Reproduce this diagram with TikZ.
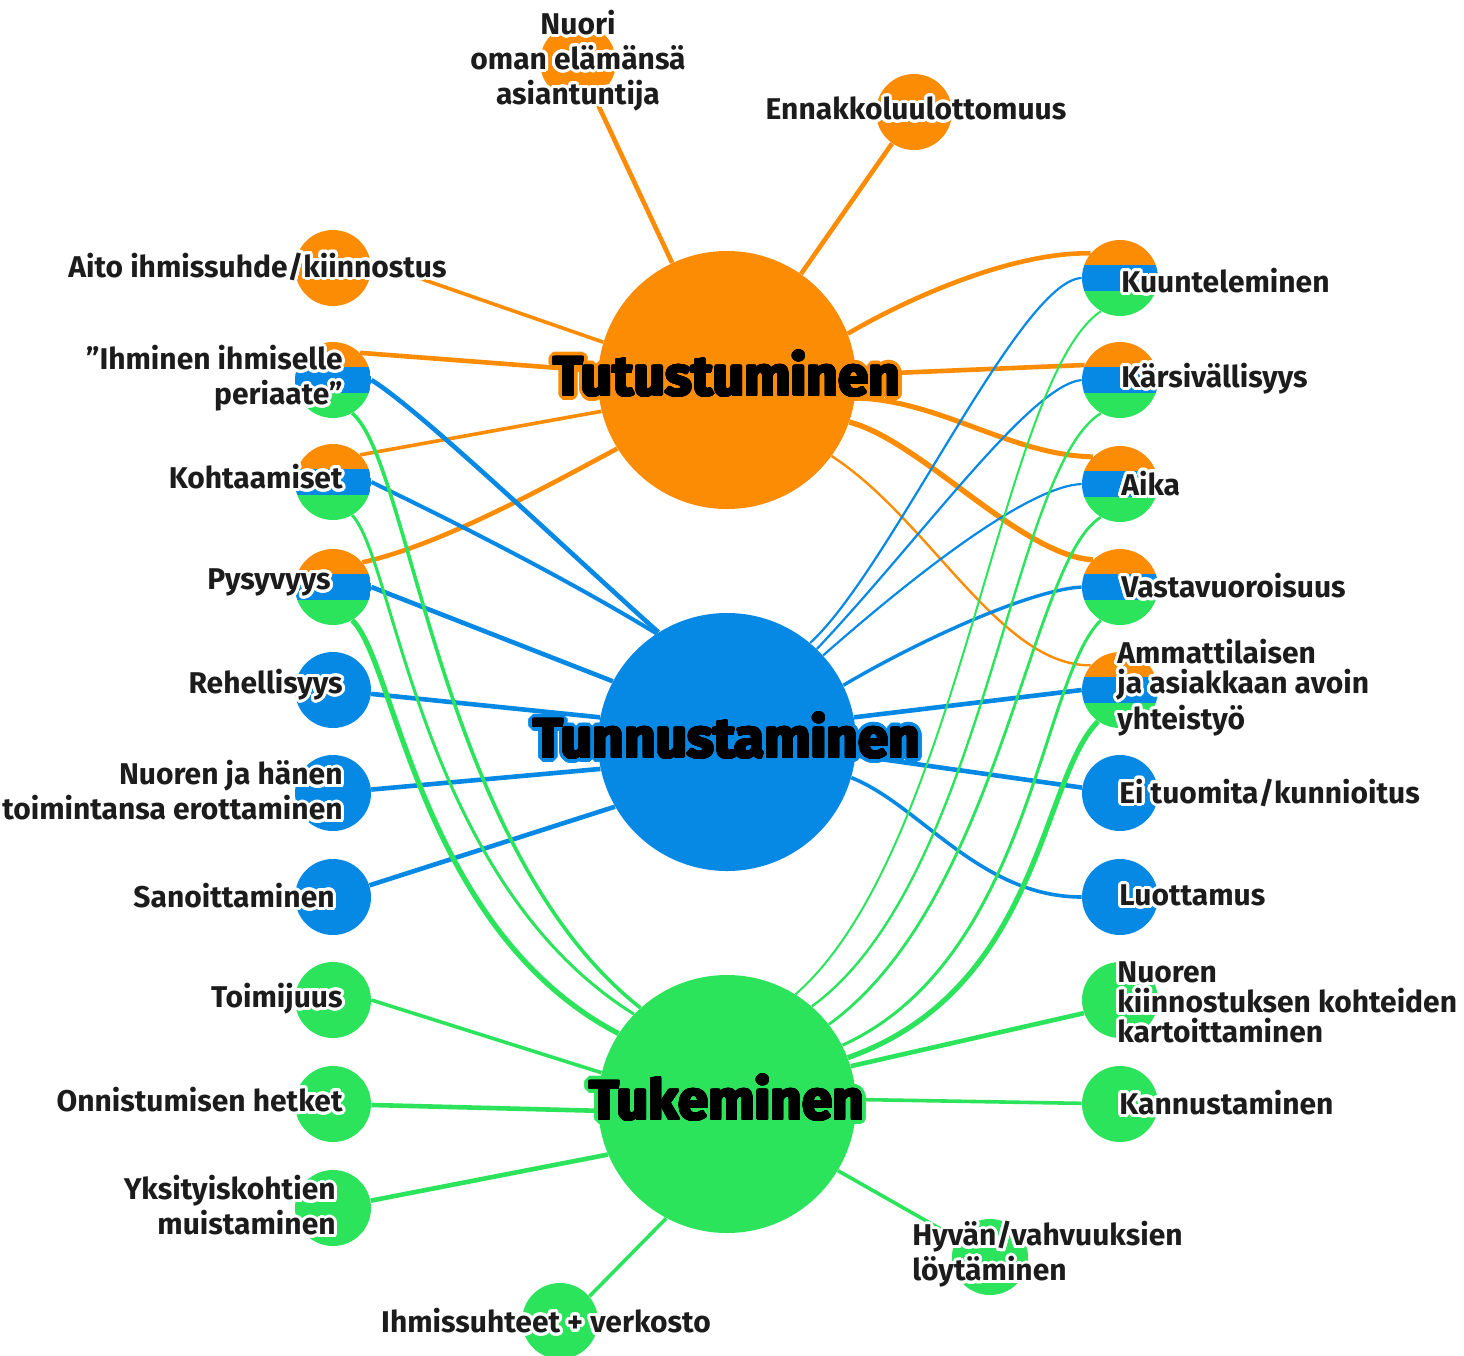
\documentclass[tikz,border=0pt]{standalone}
\usepackage{fontspec}
\setmainfont{Fira Sans}
\usepackage[copies]{contour}
\usetikzlibrary{calc,backgrounds}
\definecolor{orng}{RGB}{252,140,4}
\definecolor{blu}{RGB}{6,137,229}
\definecolor{grn}{RGB}{43,228,92}
\definecolor{ink}{RGB}{28,28,28}
\contourlength{1.5pt}
\contournumber{24}
\newcommand{\hw}[1]{\contour{white}{#1}}
% paksu otsikko: värireunus ja musta lihavointi
\newcommand{\paksu}[2]{\leavevmode\rlap{\color{#1}\contourlength{2.4pt}\contour{#1}{#2}}\contourlength{0.6pt}\contour{black}{#2}}

\begin{document}
\begin{tikzpicture}[x=0.5pt, y=-0.5pt,
  main/.style={circle, inner sep=0pt, minimum size=129pt, fill=#1},
  pallo/.style={circle, inner sep=0pt, minimum size=38pt, fill=#1},
  kolmi/.style={circle, inner sep=0pt, minimum size=38pt, path picture={
    \fill[orng] (path picture bounding box.north west) rectangle ([yshift=6.33pt]path picture bounding box.east);
    \fill[blu] ([yshift=6.33pt]path picture bounding box.west) rectangle ([yshift=-6.33pt]path picture bounding box.east);
    \fill[grn] ([yshift=-6.33pt]path picture bounding box.west) rectangle (path picture bounding box.south east);}},
  nimi/.style={font=\fontsize{15}{17.5}\selectfont\bfseries, text=ink, inner sep=0pt},
  iso/.style={font=\fontsize{27.5}{30}\selectfont\bfseries, text=black, inner sep=0pt}]
\useasboundingbox (0,0) rectangle (1464,1356);

% Keskusympyrät
\node[main=orng] (tut) at (727,380) {};
\node[main=blu] (tun) at (727,742) {};
\node[main=grn] (tuk) at (727,1104) {};

% Ylä- ja alapallot
\node[pallo=orng] (nuori) at (578,62) {};
\node[pallo=orng] (enn) at (914,112) {};
\node[pallo=grn] (ihs) at (560,1321) {};
\node[pallo=grn] (hyv) at (990,1257) {};

% Vasen sarake
\node[pallo=orng] (aito) at (333,268) {};
\node[kolmi] (ihm) at (333,380) {};
\node[kolmi] (koh) at (333,482) {};
\node[kolmi] (pys) at (333,587) {};
\node[pallo=blu] (reh) at (333,690) {};
\node[pallo=blu] (nhe) at (333,793) {};
\node[pallo=blu] (san) at (333,897) {};
\node[pallo=grn] (toi) at (333,1000) {};
\node[pallo=grn] (onn) at (333,1104) {};
\node[pallo=grn] (yks) at (333,1208) {};

% Oikea sarake
\node[kolmi] (kuu) at (1120,278) {};
\node[kolmi] (kar) at (1120,380) {};
\node[kolmi] (aika) at (1120,484) {};
\node[kolmi] (vas) at (1120,587) {};
\node[kolmi] (amm) at (1120,690) {};
\node[pallo=blu] (ei) at (1120,793) {};
\node[pallo=blu] (luo) at (1120,897) {};
\node[pallo=grn] (nkk) at (1120,1000) {};
\node[pallo=grn] (kan) at (1120,1104) {};

\begin{scope}[on background layer]
\fill[white] (0,0) rectangle (1464,1356);
% Tutustuminen
\draw[orng, line width=2.3pt] (tut) -- (nuori);
\draw[orng, line width=2.3pt] (tut) -- (enn);
\draw[orng, line width=1.8pt] (tut.163) -- (aito.10);
\draw[orng, line width=2.3pt] (tut.176) -- (ihm.45);
\draw[orng, line width=1.8pt] (tut.194) -- (koh.45);
\draw[orng, line width=2.3pt] (tut.212) .. controls (540,490) and (440,545) .. (pys.40);
\draw[orng, line width=2.3pt] (tut.21) .. controls (905,300) and (1010,252) .. (kuu.140);
\draw[orng, line width=2.3pt] (tut) -- (kar.157);
\draw[orng, line width=2.5pt] (tut.-8) .. controls (940,400) and (1010,455) .. (aika.135);
\draw[orng, line width=2.7pt] (tut.-19) .. controls (920,440) and (1020,555) .. (vas.135);
\draw[orng, line width=1.2pt] (tut.-36) .. controls (930,520) and (1000,666) .. (amm.140);
% Tunnustaminen
\draw[blu, line width=2.3pt] (ihm.east) .. controls (420,410) and (560,544) .. (tun.122);
\draw[blu, line width=2pt] (koh.east) .. controls (450,520) and (560,575) .. (tun.123);
\draw[blu, line width=2.3pt] (pys.east) -- (tun.152);
\draw[blu, line width=2.3pt] (reh) -- (tun.169);
\draw[blu, line width=2.3pt] (nhe) -- (tun.192);
\draw[blu, line width=2.3pt] (san) -- (tun.210);
\draw[blu, line width=1.1pt] (kuu.west) .. controls (1020,280) and (890,570) .. (tun.50);
\draw[blu, line width=1.1pt] (kar.west) .. controls (1030,385) and (920,540) .. (tun.46);
\draw[blu, line width=1.1pt] (aika.west) .. controls (1030,486) and (920,570) .. (tun.42);
\draw[blu, line width=1.7pt] (vas.west) .. controls (1030,590) and (920,640) .. (tun.26);
\draw[blu, line width=2.3pt] (tun.11) -- (amm.west);
\draw[blu, line width=2.3pt] (tun.-6) -- (ei);
\draw[blu, line width=1.8pt] (tun.-16) .. controls (920,805) and (980,897) .. (luo.west);
% Tukeminen
\draw[grn, line width=1.8pt] (toi.east) -- (tuk.166);
\draw[grn, line width=2.3pt] (onn) -- (tuk.183);
\draw[grn, line width=2.3pt] (yks) -- (tuk.203);
\draw[grn, line width=1.8pt] (ihs.40) -- (tuk.242);
\draw[grn, line width=1.8pt] (tuk.-31) -- (hyv);
\draw[grn, line width=1.8pt] (tuk.2) -- (kan);
\draw[grn, line width=2.3pt] (tuk.17) -- (nkk.200);
\draw[grn, line width=1.8pt] (ihm.-60) .. controls (410,460) and (440,850) .. (tuk.132);
\draw[grn, line width=1.5pt] (koh.-60) .. controls (395,560) and (420,880) .. (tuk.136);
\draw[grn, line width=2.6pt] (pys.-60) .. controls (395,660) and (420,930) .. (tuk.147);
\draw[grn, line width=1pt] (kuu.240) .. controls (1000,380) and (960,850) .. (tuk.58);
\draw[grn, line width=1.2pt] (kar.240) .. controls (1010,470) and (985,880) .. (tuk.49);
\draw[grn, line width=1.4pt] (aika.240) .. controls (1030,560) and (1000,900) .. (tuk.38);
\draw[grn, line width=1.5pt] (vas.240) .. controls (1040,680) and (1030,960) .. (tuk.27);
\draw[grn, line width=2.6pt] (amm.235) .. controls (1040,780) and (1040,990) .. (tuk.21);
\end{scope}

% Tekstit
\node[iso] (tut-t) at (727,376) {\paksu{orng}{Tutustuminen}};
\node[iso] (tun-t) at (727,738) {\paksu{blu}{Tunnustaminen}};
\node[iso] (tuk-t) at (727,1100) {\paksu{grn}{Tukeminen}};

\node[nimi, align=center] (nuori-t) at (578,62) {\hw{Nuori}\\\hw{oman elämänsä}\\\hw{asiantuntija}};
\node[nimi] (enn-t) at (916,110) {\hw{Ennakkoluulottomuus}};
\node[nimi] (ihs-t) at (546,1322) {\hw{Ihmissuhteet + verkosto}};
\node[nimi, align=left, anchor=west] (hyv-t) at (912,1256) {\hw{Hyvän/vahvuuksien}\\\hw{löytäminen}};

\node[nimi, anchor=east] (aito-t) at (447,268) {\hw{Aito ihmissuhde/kiinnostus}};
\node[nimi, anchor=east, align=right] (ihm-t) at (343,380) {\hw{”Ihminen ihmiselle}\\\hw{periaate”}};
\node[nimi, anchor=east] (koh-t) at (343,478) {\hw{Kohtaamiset}};
\node[nimi, anchor=east] (pys-t) at (331,584) {\hw{Pysyvyys}};
\node[nimi, anchor=east] (reh-t) at (343,686) {\hw{Rehellisyys}};
\node[nimi, anchor=east, align=right] (nhe-t) at (343,792) {\hw{Nuoren ja hänen}\\\hw{toimintansa erottaminen}};
\node[nimi, anchor=east] (san-t) at (335,897) {\hw{Sanoittaminen}};
\node[nimi, anchor=east] (toi-t) at (343,1000) {\hw{Toimijuus}};
\node[nimi, anchor=east] (onn-t) at (343,1101) {\hw{Onnistumisen hetket}};
\node[nimi, anchor=east, align=right] (yks-t) at (336,1207) {\hw{Yksityiskohtien}\\\hw{muistaminen}};

\node[nimi, anchor=west] (kuu-t) at (1121,282) {\hw{Kuunteleminen}};
\node[nimi, anchor=west] (kar-t) at (1121,380) {\hw{Kärsivällisyys}};
\node[nimi, anchor=west] (aika-t) at (1121,485) {\hw{Aika}};
\node[nimi, anchor=west] (vas-t) at (1121,587) {\hw{Vastavuoroisuus}};
\node[nimi, anchor=west, align=left, font=\fontsize{15}{15}\selectfont\bfseries] (amm-t) at (1117,689) {\hw{Ammattilaisen}\\\hw{ja asiakkaan avoin}\\\hw{yhteistyö}};
\node[nimi, anchor=west] (ei-t) at (1119,794) {\hw{Ei tuomita/kunnioitus}};
\node[nimi, anchor=west] (luo-t) at (1119,897) {\hw{Luottamus}};
\node[nimi, anchor=west, align=left, font=\fontsize{15}{15}\selectfont\bfseries] (nkk-t) at (1117,1004) {\hw{Nuoren}\\\hw{kiinnostuksen kohteiden}\\\hw{kartoittaminen}};
\node[nimi, anchor=west] (kan-t) at (1119,1104) {\hw{Kannustaminen}};
\end{tikzpicture}
\end{document}
